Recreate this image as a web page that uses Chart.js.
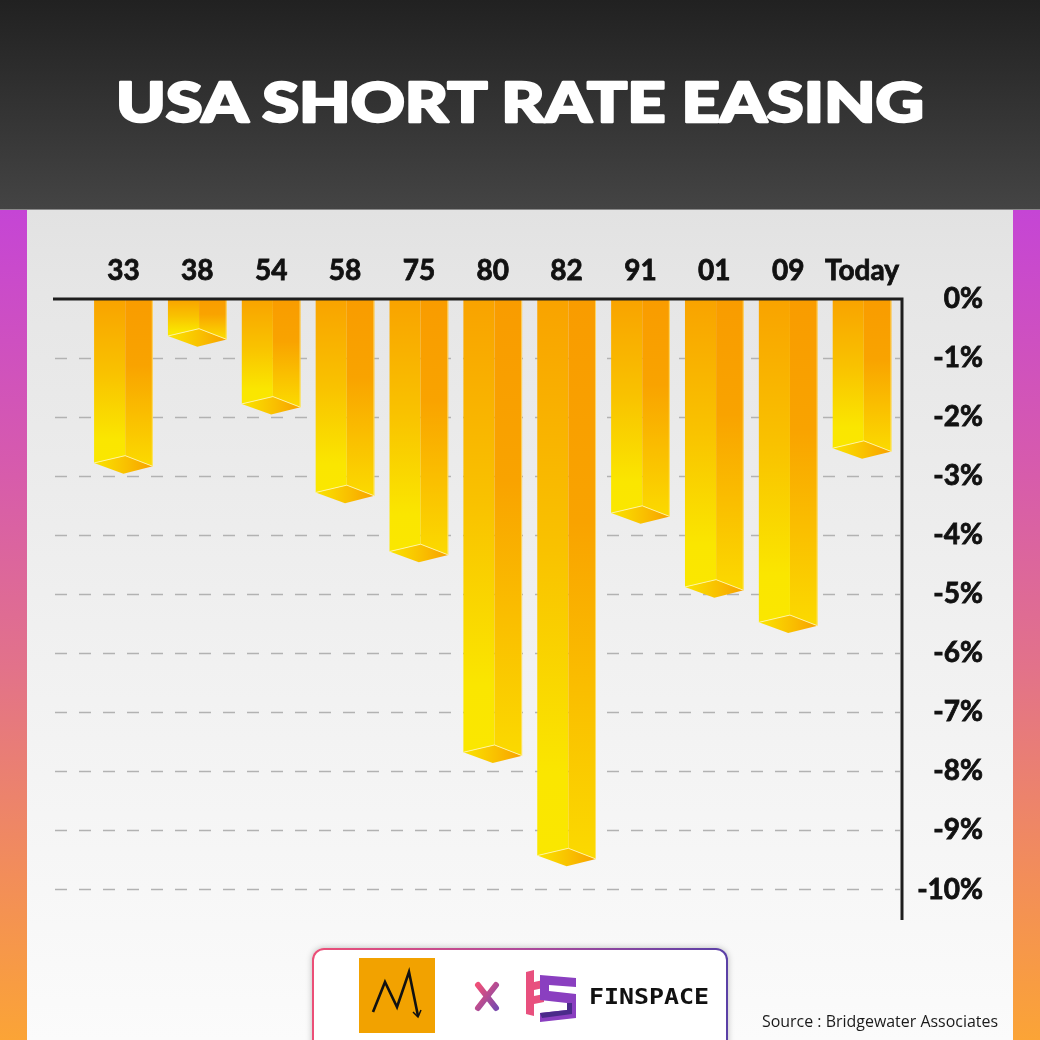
<!DOCTYPE html>
<html>
<head>
<meta charset="utf-8">
<script src="https://cdn.jsdelivr.net/npm/chart.js"></script>
<style>
  html, body { margin: 0; padding: 0; }
  body { width: 1040px; height: 1040px; position: relative; overflow: hidden; background: #f4f4f4; }
  .panel { position: absolute; left: 0; top: 210px; width: 1040px; height: 830px;
           background: linear-gradient(#e2e2e2 0%, #e6e6e6 10%, #f0f0f0 50%, #fbfbfb 100%); }
  .strip { position: absolute; top: 210px; width: 27px; height: 830px;
           background: linear-gradient(#c545d5 0%, #d65aae 30%, #e2728a 55%, #f28d5a 80%, #fba436 100%); }
  .header { position: absolute; left: 0; top: 0; width: 1040px; height: 209px;
            background: linear-gradient(#212121, #444444); border-bottom: 1px solid #8a8a8a; }
  #chart { position: absolute; left: 0; top: 0; z-index: 1; }
  .footer { position: absolute; left: 312px; top: 948px; width: 412px; height: 120px; z-index: 2;
            border-radius: 12px; border: 2px solid transparent;
            background: linear-gradient(#fff, #fff) padding-box,
                        linear-gradient(90deg, #ec4f77, #b04a9a 50%, #5a40a6) border-box;
            box-shadow: 0 0 6px rgba(0,0,0,0.25); }
  .deco { position: absolute; left: 0; top: 0; z-index: 3; }
</style>
</head>
<body>
<div class="panel"></div>
<div class="strip" style="left:0"></div>
<div class="strip" style="left:1013px"></div>
<div class="header"></div>
<canvas id="chart" width="1040" height="1040"></canvas>
<div class="footer"></div>
<svg class="deco" width="1040" height="1040" viewBox="0 0 1040 1040">
  <defs>
    <linearGradient id="xg" x1="0" y1="0" x2="1" y2="1">
      <stop offset="0" stop-color="#ee4f78"/>
      <stop offset="1" stop-color="#7b4aad"/>
    </linearGradient>
  </defs>
  <text x="520" y="122" text-anchor="middle" fill="#ffffff" stroke="#ffffff" stroke-width="2.4"
        stroke-linejoin="round" paint-order="stroke"
        font-family="Lato, 'DejaVu Sans'" font-weight="900" font-size="56"
        textLength="808" lengthAdjust="spacingAndGlyphs">USA SHORT RATE EASING</text>

  <!-- footer logos -->
  <rect x="359" y="958" width="76" height="75" fill="#f2a200"/>
  <polyline points="373,1012 385,982 397,1007 409,972 418,1016" fill="none" stroke="#111" stroke-width="2.6" stroke-linejoin="miter"/>
  <polyline points="413,1012 418,1017 421,1010" fill="none" stroke="#111" stroke-width="1.5"/>
  <line x1="478" y1="985" x2="496" y2="1008" stroke="url(#xg)" stroke-width="6" stroke-linecap="round"/>
  <line x1="496" y1="985" x2="478" y2="1008" stroke="url(#xg)" stroke-width="6" stroke-linecap="round"/>
  <polygon points="526,972 534,970 534,982 548,979 548,987 534,990 534,996 544,994 544,1002 534,1004 534,1016 526,1014" fill="#e8507e"/>
  <polygon points="540,975 576,978 576,987 549,985 549,991 576,994 576,1018 540,1022 540,1013 567,1010 567,1003 540,1000" fill="#8a3fc0"/>
  <polygon points="540,1013 567,1010 567,1003 572,1003 572,1014 542,1018" fill="#4a2a8a"/>
  <text x="589" y="1004" fill="#111" font-family="'DejaVu Sans Mono', monospace" font-weight="700" font-size="22"
        textLength="120" lengthAdjust="spacingAndGlyphs">FINSPACE</text>
  <text x="762" y="1027" fill="#1a1a1a" font-family="'Open Sans', sans-serif" font-size="16"
        textLength="236" lengthAdjust="spacingAndGlyphs">Source : Bridgewater Associates</text>
</svg>

<script>
// Easing episodes (years) and size of the short-rate cut, in percentage points
const years = ['33', '38', '54', '58', '75', '80', '82', '91', '01', '09', 'Today'];
const easing = [-2.8, -0.65, -1.8, -3.3, -4.3, -7.7, -9.45, -3.65, -4.9, -5.5, -2.55];
const yMin = -10.5;
const yMax = 0;
const yStep = 1;

const LABEL_FONT = { family: 'Lato, "DejaVu Sans", sans-serif', size: 28, weight: '700' };

function poly(ctx, pts, fill) {
  ctx.beginPath();
  ctx.moveTo(pts[0][0], pts[0][1]);
  for (let i = 1; i < pts.length; i++) ctx.lineTo(pts[i][0], pts[i][1]);
  ctx.closePath();
  ctx.fillStyle = fill;
  ctx.fill();
}

// dashed guide lines and the two solid axis rules
const panelLines = {
  id: 'panelLines',
  beforeDatasetsDraw(chart) {
    const ctx = chart.ctx;
    const y = chart.scales.y;
    ctx.save();
    ctx.strokeStyle = '#b2b2b2';
    ctx.lineWidth = 1.5;
    ctx.setLineDash([12, 12]);
    y.ticks.forEach(t => {
      if (t.value === 0) return;
      const py = Math.round(y.getPixelForValue(t.value)) + 0.5;
      ctx.beginPath();
      ctx.moveTo(55, py);
      ctx.lineTo(900, py);
      ctx.stroke();
    });
    ctx.restore();
  },
  afterDatasetsDraw(chart) {
    const ctx = chart.ctx;
    const area = chart.chartArea;
    const zero = chart.scales.y.getPixelForValue(0);
    ctx.save();
    ctx.strokeStyle = '#1e1e1e';
    ctx.lineWidth = 3;
    ctx.beginPath();
    ctx.moveTo(53, zero);
    ctx.lineTo(903.5, zero);
    ctx.moveTo(902, zero - 1.5);
    ctx.lineTo(902, area.bottom + 1);
    ctx.stroke();
    ctx.restore();
  }
};

// 3D prism bars: two shaded faces plus a diamond end cap
const bars3d = {
  id: 'bars3d',
  beforeDatasetDraw(chart, args) {
    const ctx = chart.ctx;
    ctx.save();
    args.meta.data.forEach(el => {
      const { x, y, base, width } = el.getProps(['x', 'y', 'base', 'width'], true);
      const L = x - width / 2, R = x + width / 2;
      const D = L + width * 0.53, M = L + width * 0.5;
      const k = width / 58.7;
      const yl = y - 1.4 * k, yt = y - 8.7 * k, yr = y + 2 * k, yb = y + 9.3 * k;

      let g = ctx.createLinearGradient(0, base, 0, y);
      g.addColorStop(0, '#f9a300');
      g.addColorStop(0.45, '#f9c200');
      g.addColorStop(0.85, '#fae600');
      g.addColorStop(1, '#fae700');
      poly(ctx, [[L, base], [D, base], [D, yt], [L, yl]], g);

      g = ctx.createLinearGradient(0, base, 0, y);
      g.addColorStop(0, '#f99c00');
      g.addColorStop(0.4, '#f9a300');
      g.addColorStop(1, '#fbd900');
      poly(ctx, [[D, base], [R, base], [R, yr], [D, yt]], g);

      g = ctx.createLinearGradient(L, 0, R, 0);
      g.addColorStop(0, '#fae400');
      g.addColorStop(0.55, '#f9c000');
      g.addColorStop(1, '#f8a000');
      poly(ctx, [[L, yl], [D, yt], [R, yr], [M, yb]], g);

      ctx.strokeStyle = 'rgba(255, 246, 170, 0.9)';
      ctx.lineWidth = 1;
      ctx.beginPath();
      ctx.moveTo(L, yl);
      ctx.lineTo(D, yt);
      ctx.lineTo(R, yr);
      ctx.stroke();
      ctx.strokeStyle = 'rgba(255, 235, 140, 0.7)';
      ctx.beginPath();
      ctx.moveTo(R - 0.5, base);
      ctx.lineTo(R - 0.5, yr);
      ctx.stroke();
    });
    ctx.restore();
    return false;
  }
};

new Chart(document.getElementById('chart'), {
  type: 'bar',
  data: {
    labels: years,
    datasets: [{
      data: easing,
      backgroundColor: '#f9b400',
      barPercentage: 0.795,
      categoryPercentage: 1
    }]
  },
  plugins: [panelLines, bars3d],
  options: {
    responsive: false,
    animation: false,
    devicePixelRatio: 1,
    layout: { padding: { left: 86.5, right: 57, top: 239, bottom: 121 } },
    plugins: {
      legend: { display: false },
      tooltip: { enabled: false }
    },
    scales: {
      x: {
        position: 'top',
        grid: { display: false, drawTicks: false, tickLength: 0 },
        border: { display: false },
        ticks: {
          color: '#111', font: LABEL_FONT, padding: 11, maxRotation: 0, autoSkip: false,
          textStrokeColor: '#111', textStrokeWidth: 0.8
        },
        afterFit: s => { s.height = 60; }
      },
      y: {
        position: 'right',
        min: yMin,
        max: yMax,
        grid: { display: false, drawTicks: false, tickLength: 0 },
        border: { display: false },
        ticks: {
          stepSize: yStep,
          includeBounds: false,
          crossAlign: 'far',
          padding: 16,
          color: '#111',
          font: LABEL_FONT,
          textStrokeColor: '#111',
          textStrokeWidth: 0.8,
          callback: v => `${v}%`
        },
        afterFit: s => { s.width = 84; }
      }
    }
  }
});
</script>
</body>
</html>
